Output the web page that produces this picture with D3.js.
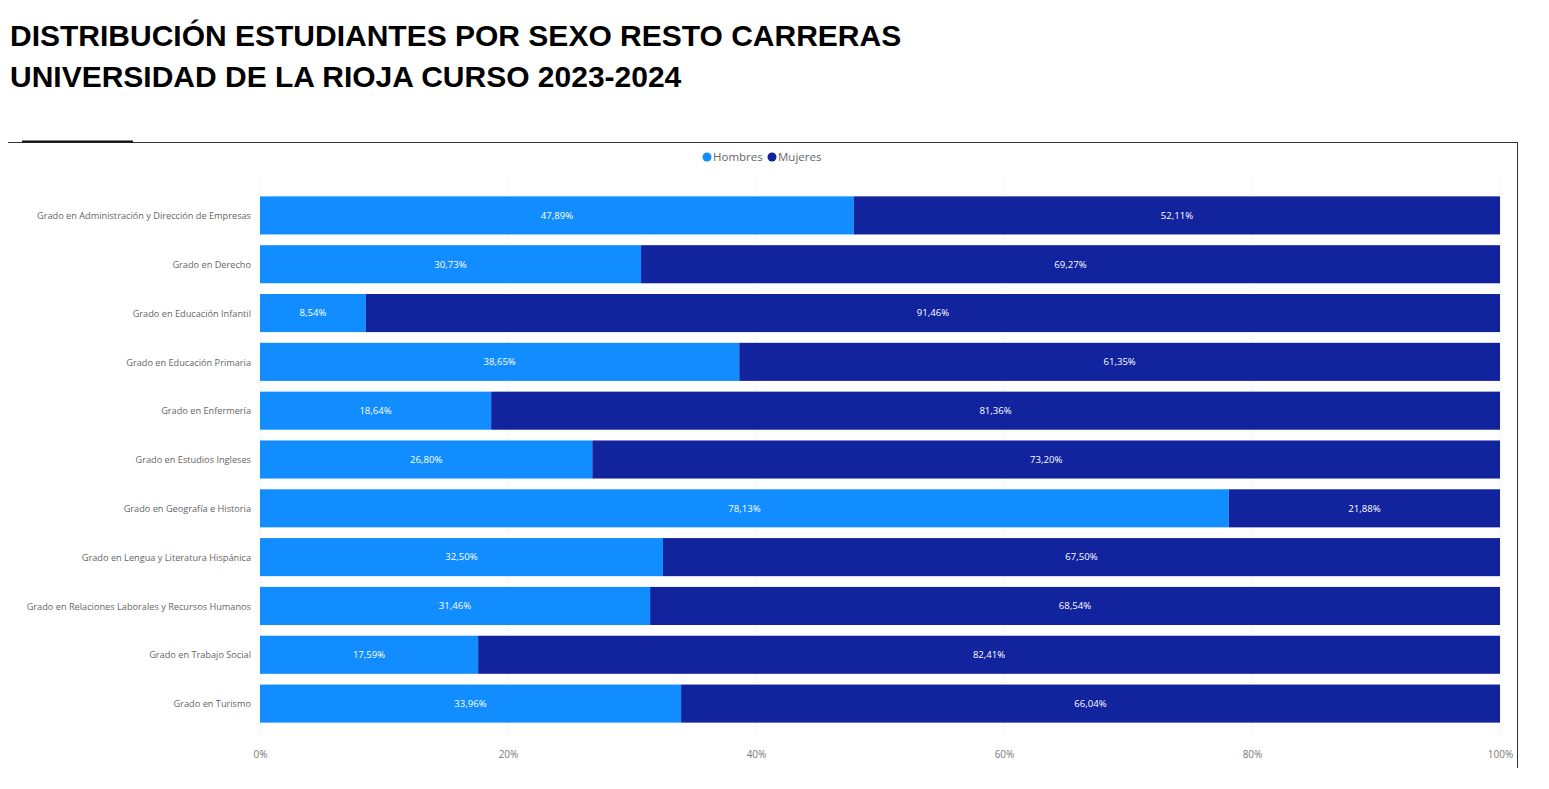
<!DOCTYPE html>
<html><head><meta charset="utf-8">
<script src="https://cdn.jsdelivr.net/npm/d3@7/dist/d3.min.js"></script>
<style>body{margin:0;background:#fff;}svg{display:block;}</style>
</head><body><svg id="c" width="1549" height="789"></svg>
<script>
const categories = [
  "Grado en Administración y Dirección de Empresas",
  "Grado en Derecho",
  "Grado en Educación Infantil",
  "Grado en Educación Primaria",
  "Grado en Enfermería",
  "Grado en Estudios Ingleses",
  "Grado en Geografía e Historia",
  "Grado en Lengua y Literatura Hispánica",
  "Grado en Relaciones Laborales y Recursos Humanos",
  "Grado en Trabajo Social",
  "Grado en Turismo"
];
const hombres = [47.89, 30.73, 8.54, 38.65, 18.64, 26.80, 78.13, 32.50, 31.46, 17.59, 33.96];
const mujeres = [52.11, 69.27, 91.46, 61.35, 81.36, 73.20, 21.88, 67.50, 68.54, 82.41, 66.04];
const seriesNames = ["Hombres", "Mujeres"];
const seriesColors = ["#118DFF", "#12239E"];
const xTicks = [0, 20, 40, 60, 80, 100];
const titleLines = ["DISTRIBUCIÓN ESTUDIANTES POR SEXO RESTO CARRERAS", "UNIVERSIDAD DE LA RIOJA CURSO 2023-2024"];

const svg = d3.select("#c");
const font = "'Open Sans', 'Noto Sans', sans-serif";

// title
svg.selectAll("text.title").data(titleLines).join("text")
  .attr("class","title")
  .attr("x", 10).attr("y", (d,i)=>46 + i*41)
  .attr("font-family","'Liberation Sans', Arial, sans-serif")
  .attr("font-weight","bold").attr("font-size", 30)
  .attr("fill","#000").text(d=>d);

// frame lines
svg.append("line").attr("x1",8).attr("x2",1518).attr("y1",142.5).attr("y2",142.5).attr("stroke","#333").attr("stroke-width",1);
svg.append("line").attr("x1",22).attr("x2",133).attr("y1",141.5).attr("y2",141.5).attr("stroke","#111").attr("stroke-width",2);
svg.append("line").attr("x1",1517.5).attr("x2",1517.5).attr("y1",142).attr("y2",768).attr("stroke","#333").attr("stroke-width",1);

const x = d3.scaleLinear().domain([0,100]).range([260,1500]);
const y = d3.scaleBand().domain(categories).range([191,728]).paddingInner(0.22).paddingOuter(0.11);

// gridlines
svg.append("g").selectAll("line").data(xTicks).join("line")
  .attr("x1",d=>Math.round(x(d))+0.5).attr("x2",d=>Math.round(x(d))+0.5)
  .attr("y1",178).attr("y2",738)
  .attr("stroke","#ddd").attr("stroke-dasharray","1,3");

// x axis
const xAxis = d3.axisBottom(x).tickValues(xTicks).tickFormat(d=>d+"%").tickSize(0).tickPadding(0);
const gx = svg.append("g").attr("transform","translate(0,758)").call(xAxis);
gx.select(".domain").remove();
gx.selectAll("text").attr("font-family",font).attr("font-size",10).attr("fill","#777").attr("dy","0");

// y axis
const yAxis = d3.axisLeft(y).tickSize(0).tickPadding(9);
const gy = svg.append("g").attr("transform","translate(260,0)").call(yAxis);
gy.select(".domain").remove();
gy.selectAll("text").attr("font-family",font).attr("font-size",9.2).attr("fill","#666").attr("dy","0.4em");

// stacked data
const rows = categories.map((c,i)=>({cat:c, Hombres:hombres[i], Mujeres:mujeres[i]}));
const stack = d3.stack().keys(seriesNames)(rows);
const color = d3.scaleOrdinal().domain(seriesNames).range(seriesColors);

const layers = svg.append("g").selectAll("g").data(stack).join("g").attr("fill",d=>color(d.key));
layers.selectAll("rect").data(d=>d).join("rect")
  .attr("x",d=>x(d[0])).attr("width",d=>Math.min(x(d[1]),x(100))-x(d[0]))
  .attr("y",d=>y(d.data.cat)).attr("height",y.bandwidth());

const fmt = v => v.toFixed(2).replace(".", ",") + "%";
layers.selectAll("text").data(d=>d.map(e=>({e, key:d.key}))).join("text")
  .attr("x",d=>(x(d.e[0])+Math.min(x(d.e[1]),x(100)))/2)
  .attr("y",d=>y(d.e.data.cat)+y.bandwidth()/2)
  .attr("dy","0.35em").attr("text-anchor","middle")
  .attr("font-family",font).attr("font-size",9.6).attr("fill","#fff")
  .text(d=>fmt(d.e.data[d.key]));

// legend
const lg = svg.append("g");
const legX = [707, 772];
seriesNames.forEach((s,i)=>{
  lg.append("circle").attr("cx",legX[i]).attr("cy",157).attr("r",4.5).attr("fill",seriesColors[i]);
  lg.append("text").attr("x",legX[i]+6).attr("y",157).attr("dy","0.35em")
    .attr("font-family",font).attr("font-size",11.5).attr("fill","#666").text(s);
});
</script></body></html>
